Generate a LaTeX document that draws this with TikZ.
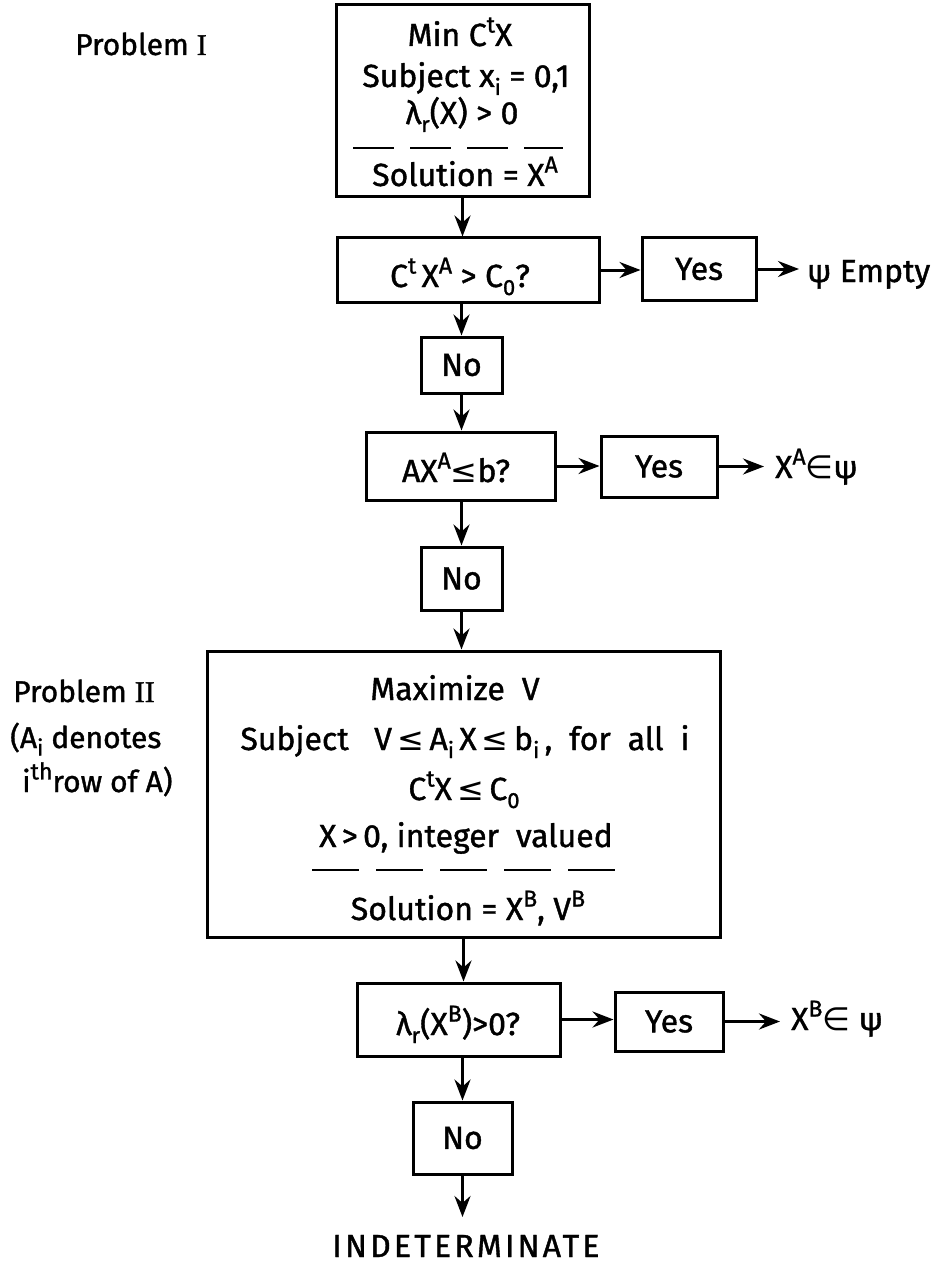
\documentclass[tikz,border=0pt]{standalone}
\usepackage{fontspec}
\setmainfont{Fira Sans}[FakeBold=1.2]
\newfontfamily\symf{DejaVu Sans}
\newfontfamily\serf{Liberation Serif}[FakeBold=1.2]
\usetikzlibrary{arrows.meta}
\newcommand{\hi}[1]{\raisebox{0.42em}{\fontsize{23}{23}\selectfont #1}}
\newcommand{\lo}[1]{\raisebox{-0.25em}{\fontsize{22}{22}\selectfont #1}}
\newcommand{\leqs}{{\symf ≤}}
\newcommand{\ins}{{\symf ∈}}
\begin{document}
\begin{tikzpicture}[x=1pt,y=-1pt,
  box/.style={draw, line width=3pt, inner sep=0pt, font=\fontsize{32}{38}\selectfont},
  txt/.style={inner sep=0pt, font=\fontsize{32}{38}\selectfont},
  lab/.style={inner sep=0pt, font=\fontsize{30}{36}\selectfont, anchor=base west},
  arr/.style={line width=3pt, -{Stealth[length=21pt,width=16pt,inset=7pt]}},
  dsh/.style={line width=2.5pt}]
\useasboundingbox (0,0) rectangle (938,1265);

% Problem I
\node[lab] (lab1) at (75,55) {Problem {\serf I}};
\node[box, minimum width=253pt, minimum height=192pt] (p1) at (462.5,101) {};
\node[txt, anchor=base] (p1a) at (460,46) {Min C\hi{t}X};
\node[txt, anchor=base] (p1b) at (466,87) {Subject x\lo{i} = 0,1};
\node[txt, anchor=base] (p1c) at (462,124) {λ\lo{r}(X) > 0};
\draw[dsh, dash pattern=on 41pt off 16pt] (353,148) -- (563,148);
\node[txt, anchor=base] (p1d) at (465,186) {Solution = X\hi{A}};

% first test
\node[box, minimum width=262pt, minimum height=64pt] (c1) at (468,270) {};
\node[txt, anchor=base] (c1t) at (460,287) {C\hi{t}\,X\hi{A} > C\lo{0}?};
\node[box, minimum width=114pt, minimum height=62pt] (y1) at (699,269) {Yes};
\node[txt, anchor=base west] (e1) at (807,282) {ψ Empty};
\node[box, minimum width=81pt, minimum height=56pt] (n1) at (461.5,365) {No};

% second test
\node[box, minimum width=189pt, minimum height=68pt] (c2) at (460.5,466) {};
\node[txt, anchor=base] (c2t) at (456,482) {AX\hi{A}\leqs b?};
\node[box, minimum width=116pt, minimum height=61pt] (y2) at (659,466.5) {Yes};
\node[txt, anchor=base west] (e2) at (775,478) {X\hi{A}\ins ψ};
\node[box, minimum width=81pt, minimum height=63pt] (n2) at (461.5,578.5) {No};

% Problem II
\node[lab] (lab2) at (13,702) {Problem {\serf II}};
\node[lab] (lab3) at (10,748) {(A\lo{i} denotes};
\node[lab] (lab4) at (22,792) {i\hi{th}row of A)};
\node[box, minimum width=513pt, minimum height=286pt] (p2) at (463.5,794) {};
\node[txt, anchor=base] (p2a) at (455,700) {Maximize\ \ V};
\node[txt, anchor=base] (p2b) at (465,750) {Subject\ \ \ V\,\leqs\,A\lo{i}\,X\,\leqs\,b\lo{i}\,,\ \ for\ \ all\ \ i};
\node[txt, anchor=base] (p2c) at (464,800) {C\hi{t}X\,\leqs\,C\lo{0}};
\node[txt, anchor=base] (p2d) at (466,847) {X\,>\,0, integer\ \ valued};
\draw[dsh, dash pattern=on 47pt off 17pt] (312,870) -- (615,870);
\node[txt, anchor=base] (p2e) at (468,920) {Solution = X\hi{B}, V\hi{B}};

% third test
\node[box, minimum width=203pt, minimum height=73pt] (c3) at (458.5,1019.5) {};
\node[txt, anchor=base] (c3t) at (458,1035) {λ\lo{r}(X\hi{B})>0?};
\node[box, minimum width=108pt, minimum height=59pt] (y3) at (669,1021.5) {Yes};
\node[txt, anchor=base west] (e3) at (791,1030) {X\hi{B}\ins\ ψ};
\node[box, minimum width=99pt, minimum height=72pt] (n3) at (462.5,1138) {No};
\coordinate (end) at (462.5,1217);
\node[txt, anchor=base, font=\fontsize{32}{38}\selectfont\addfontfeature{LetterSpace=10}] (ind) at (466,1257) {INDETERMINATE};

% connectors
\draw[arr] (p1.south) -- (p1.south |- c1.north);
\draw[arr] (n1.north |- c1.south) -- (n1.north);
\draw[arr] (n1.south) -- (n1.south |- c2.north);
\draw[arr] (n2.north |- c2.south) -- (n2.north);
\draw[arr] (n2.south) -- (n2.south |- p2.north);
\draw[arr] (p2.south) -- (p2.south |- c3.north);
\draw[arr] (n3.north |- c3.south) -- (n3.north);
\draw[arr] (n3.south) -- (end);
\draw[arr] (c1.east) -- (c1.east -| y1.west);
\draw[arr, shorten >=8pt] (y1.east) -- (y1.east -| e1.west);
\draw[arr] (c2.east) -- (c2.east -| y2.west);
\draw[arr, shorten >=11pt] (y2.east) -- (y2.east -| e2.west);
\draw[arr] (c3.east) -- (c3.east -| y3.west);
\draw[arr, shorten >=11pt] (y3.east) -- (y3.east -| e3.west);
\end{tikzpicture}
\end{document}
